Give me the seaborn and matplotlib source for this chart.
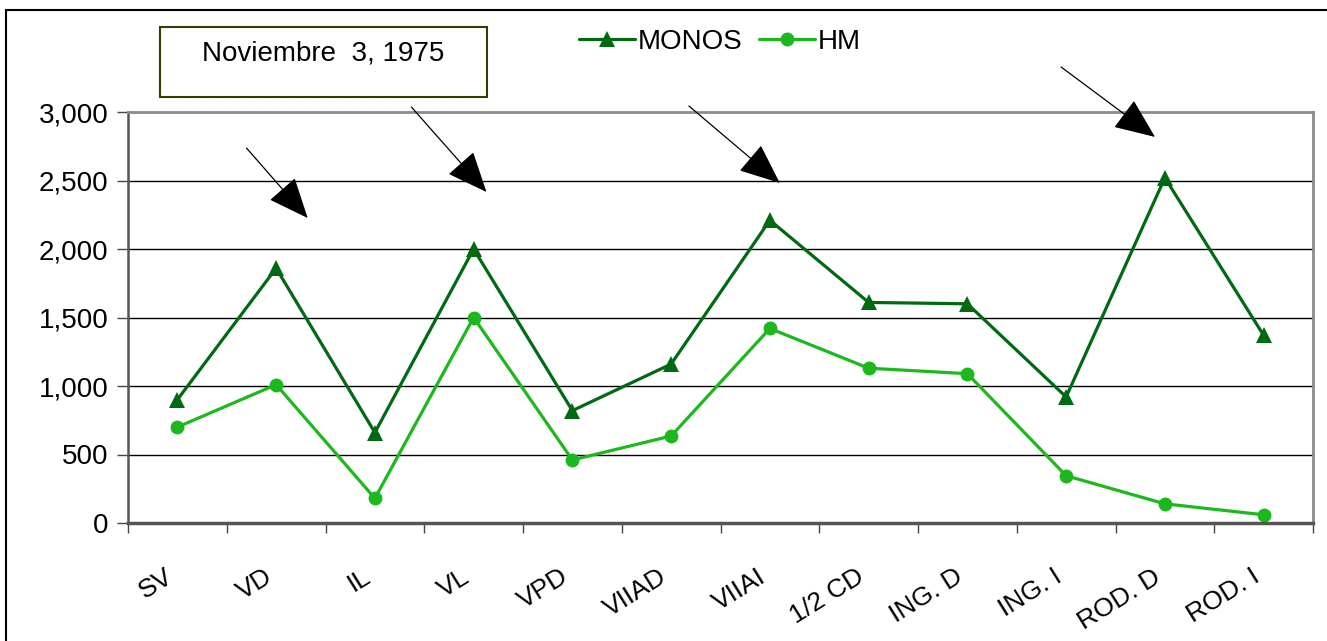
import matplotlib
matplotlib.use("Agg")
import matplotlib.pyplot as plt
import matplotlib.ticker as mticker
from matplotlib.patches import Rectangle
from matplotlib.lines import Line2D
import seaborn as sns
import pandas as pd
import numpy as np

categories = ["SV", "VD", "IL", "VL", "VPD", "VIIAD", "VIIAI", "1/2 CD",
              "ING. D", "ING. I", "ROD. D", "ROD. I"]
monos = [900, 1860, 660, 2000, 820, 1160, 2210, 1610, 1600, 920, 2520, 1370]
hm = [700, 1010, 180, 1500, 460, 635, 1420, 1130, 1090, 345, 140, 60]
series_names = ["MONOS", "HM"]
title_text = "Noviembre  3, 1975"
y_ticks = [0, 500, 1000, 1500, 2000, 2500, 3000]

# arrows (start -> end) in data units (category index, value)
arrows = [((0.70, 2737), (1.32, 2226)),
          ((2.37, 3036), (3.13, 2416)),
          ((5.18, 3044), (6.10, 2482)),
          ((8.95, 3328), (9.90, 2818))]

sns.set_theme(style="white")
plt.rcParams["font.family"] = ["Liberation Sans", "DejaVu Sans"]
plt.rcParams["text.color"] = "black"
plt.rcParams["xtick.labelcolor"] = "black"
plt.rcParams["ytick.labelcolor"] = "black"

idx = np.arange(len(categories))
df = pd.DataFrame({
    "pos": np.concatenate([idx, idx]),
    "value": monos + hm,
    "series": [series_names[0]] * len(monos) + [series_names[1]] * len(hm),
})

fig = plt.figure(figsize=(13.27, 6.41), dpi=100)
ax = fig.add_axes([128 / 1327, 1 - 523 / 641, (1313 - 128) / 1327, (523 - 112) / 641])

palette = {"MONOS": "#006a12", "HM": "#1db81d"}
sns.lineplot(data=df, x="pos", y="value", hue="series", style="series",
             markers={"MONOS": "^", "HM": "o"}, dashes=False, palette=palette,
             linewidth=2.3, markersize=10, markeredgewidth=0, ax=ax,
             sort=False, legend=True)
for ln in ax.lines:
    if ln.get_marker() == "^":
        ln.set_markersize(12)
    elif ln.get_marker() == "o":
        ln.set_markersize(10)

ax.set_xlim(-0.5, len(categories) - 0.5)
ax.set_ylim(0, 3000)
ax.set_yticks(y_ticks)
ax.yaxis.set_major_formatter(mticker.FuncFormatter(lambda v, p: f"{int(v):,}"))
ax.tick_params(axis="y", which="major", length=8, width=1, color="#444444",
               labelsize=20, pad=6, left=True, direction="out")
ax.set_xticks(idx)
ax.set_xticklabels(categories, rotation=32, ha="right")
ax.set_xticks(np.arange(-0.5, len(categories)), minor=True)
ax.tick_params(axis="x", which="major", length=0, labelsize=19, pad=30)
ax.tick_params(axis="x", which="minor", length=7, width=1, color="#444444",
               bottom=True, direction="out")
ax.set_xlabel("")
ax.set_ylabel("")

for yv in y_ticks[1:-1]:
    ax.axhline(yv, color="black", linewidth=1, zorder=0)

ax.spines["top"].set_color("#8c8c8c")
ax.spines["top"].set_linewidth(2)
ax.spines["right"].set_color("#8c8c8c")
ax.spines["right"].set_linewidth(2)
ax.spines["left"].set_color("#555555")
ax.spines["left"].set_linewidth(1.8)
ax.spines["bottom"].set_color("#555555")
ax.spines["bottom"].set_linewidth(2.5)

for (x0, y0), (x1, y1) in arrows:
    ax.annotate("", xy=(x1, y1), xytext=(x0, y0), xycoords="data",
                textcoords="data", annotation_clip=False,
                arrowprops=dict(arrowstyle="-|>,head_length=1.3,head_width=0.55",
                                mutation_scale=20, color="black", lw=0.9,
                                shrinkA=0, shrinkB=0))

leg = ax.legend(loc="center", bbox_to_anchor=(720 / 1327, 1 - 42 / 641),
                bbox_transform=fig.transFigure, ncol=2, frameon=False,
                fontsize=20, handlelength=2.0, handletextpad=0.1,
                columnspacing=0.6, borderaxespad=0)
for t in leg.get_texts():
    t.set_color("black")

# title box
fig.patches.append(Rectangle((160 / 1327, 1 - 97 / 641), (487 - 160) / 1327, 70 / 641,
                             transform=fig.transFigure, fill=False,
                             edgecolor="#3a3a00", linewidth=1.5, figure=fig))
fig.text(323 / 1327, 1 - 53 / 641, title_text, ha="center", va="center",
         fontsize=20, color="black")

# outer frame
fig.lines.append(Line2D([6 / 1327, 6 / 1327], [0, 1 - 10 / 641],
                        transform=fig.transFigure, color="black", linewidth=1.5))
fig.lines.append(Line2D([6 / 1327, 1], [1 - 10 / 641, 1 - 10 / 641],
                        transform=fig.transFigure, color="black", linewidth=1.5))

fig.savefig("out.png", dpi=100, facecolor="white")
